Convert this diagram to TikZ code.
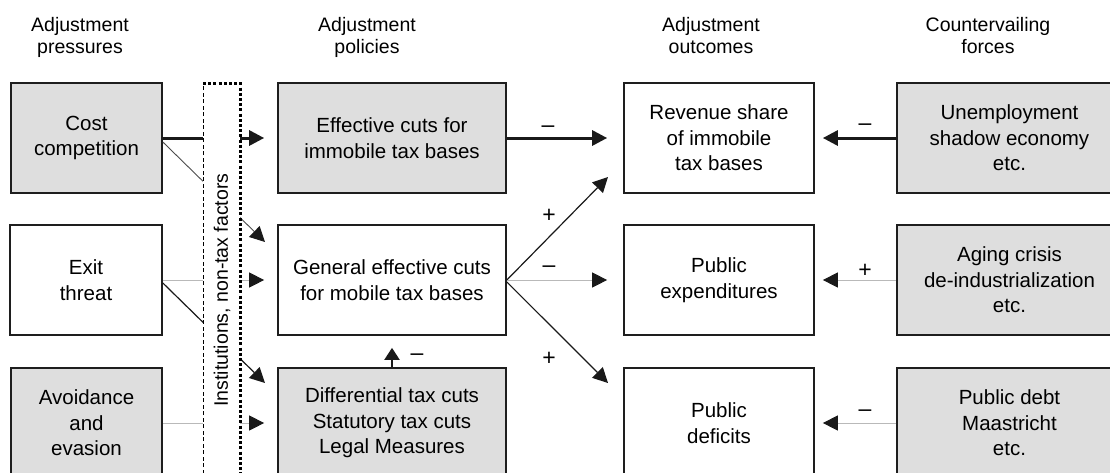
\documentclass[tikz,border=0pt]{standalone}
\usepackage{fontspec}
\setmainfont{Liberation Sans}
\usetikzlibrary{arrows.meta}
\definecolor{boxgray}{RGB}{222,222,222}
\definecolor{linegray}{RGB}{185,185,185}
\definecolor{edge}{RGB}{30,30,30}
\begin{document}
\begin{tikzpicture}[x=1pt,y=-1pt,
  every node/.style={font=\fontsize{19.5}{22}\selectfont, align=center},
  box/.style={draw=edge, line width=1.7pt, inner sep=0pt, minimum height=110pt,
    font=\fontsize{20.5}{25.5}\selectfont},
  gbox/.style={box, fill=boxgray},
  wbox/.style={box, fill=white},
  lbl/.style={anchor=base, inner sep=0pt, font=\fontsize{23}{23}\selectfont},
  thickarr/.style={line width=3pt, draw=black!90, -{Triangle[length=15pt,width=15pt]}},
  thinarr/.style={line width=1.2pt, draw=black!90, -{Triangle[length=15pt,width=15pt]}},
  faintarr/.style={line width=0.9pt, draw=black!70, -{Triangle[length=15pt,width=15pt,color=black!90]}},
  greyarr/.style={line width=1pt, draw=linegray, -{Triangle[length=15pt,width=15pt,color=black!90]}},
  uparr/.style={line width=2pt, draw=black!90, -{Triangle[length=12pt,width=15pt]}}
]
\useasboundingbox (0,0) rectangle (1110,472);
\clip (0,0) rectangle (1110,472);

% headers
\node (h1) at (80,37) {Adjustment\\pressures};
\node (h2) at (367,37) {Adjustment\\policies};
\node (h3) at (711,36) {Adjustment\\outcomes};
\node (h4) at (988,36) {Countervailing\\forces};

% left column
\node[gbox, minimum width=151pt] (cost) at (86.5,138) {Cost\\competition};
\node[wbox, minimum width=152pt] (exit) at (86,280) {Exit\\threat};
\node[gbox, minimum width=151pt] (avoid) at (86.5,423) {Avoidance\\and\\evasion};

% policies column
\node[gbox, minimum width=228pt] (eff) at (392,138) {Effective cuts for\\immobile tax bases};
\node[wbox, minimum width=228pt] (gen) at (392,280) {General effective cuts\\for mobile tax bases};
\node[gbox, minimum width=228pt] (diff) at (392,423) {Differential tax cuts\\Statutory tax cuts\\Legal Measures};

% outcomes column
\node[wbox, minimum width=190pt] (rev) at (719,138) {Revenue share\\of immobile\\tax bases};
\node[wbox, minimum width=190pt] (exp) at (719,280) {Public\\expenditures};
\node[wbox, minimum width=190pt] (def) at (719,423) {Public\\deficits};

% countervailing column
\node[gbox, minimum width=225pt] (unemp) at (1009.5,138) {Unemployment\\shadow economy\\etc.};
\node[gbox, minimum width=225pt] (aging) at (1009.5,280) {Aging crisis\\de-industrialization\\etc.};
\node[gbox, minimum width=225pt] (debt) at (1009.5,423) {Public debt\\Maastricht\\etc.};

% free arrow ends
\coordinate (t1) at (265,242);
\coordinate (t2) at (265,383);
\coordinate (t3) at (608,177);
\coordinate (t4) at (608,383);

% left connectors
\draw[thickarr, shorten >=13pt] (cost.east) -- (eff.west);
\draw[faintarr] ([yshift=-4pt]cost.east) -- (t1);
\draw[greyarr, shorten >=13pt] (exit.east) -- (gen.west);
\draw[thinarr] ([yshift=-3pt]exit.east) -- (t2);
\draw[greyarr, shorten >=13pt] (avoid.east) -- (diff.west);

% institutions band
\fill[white] (203,83) rectangle (240,480);
\draw[line width=0.9pt, dash pattern=on 4pt off 2.5pt] (203,480) -- (203,83);
\draw[line width=3pt, dash pattern=on 3pt off 2.2pt] (203,83) -- (240,83) -- (240,480);
\node[rotate=90] (inst) at (222,290) {Institutions, non-tax factors};

% middle connectors
\draw[thickarr, shorten >=16pt] (eff.east) -- (rev.west);
\draw[thinarr] (gen.east) -- (t3);
\draw[greyarr, shorten >=16pt] (gen.east) -- (exp.west);
\draw[thinarr] ([yshift=-2pt]gen.east) -- (t4);
\draw[uparr, shorten >=12pt] (diff.north) -- (gen.south);

% right connectors
\draw[thickarr, shorten >=8pt] (unemp.west) -- (rev.east);
\draw[greyarr, shorten >=8pt] (aging.west) -- (exp.east);
\draw[greyarr, shorten >=8pt] (debt.west) -- (def.east);

% sign labels
\node[lbl] (s1) at (548,132) {–};
\node[lbl] (s2) at (549,222) {+};
\node[lbl] (s3) at (549,272) {–};
\node[lbl] (s4) at (549,365) {+};
\node[lbl] (s5) at (417,360) {–};
\node[lbl] (s6) at (865,130) {–};
\node[lbl] (s7) at (865,277) {+};
\node[lbl] (s8) at (865,416) {–};
\end{tikzpicture}
\end{document}
